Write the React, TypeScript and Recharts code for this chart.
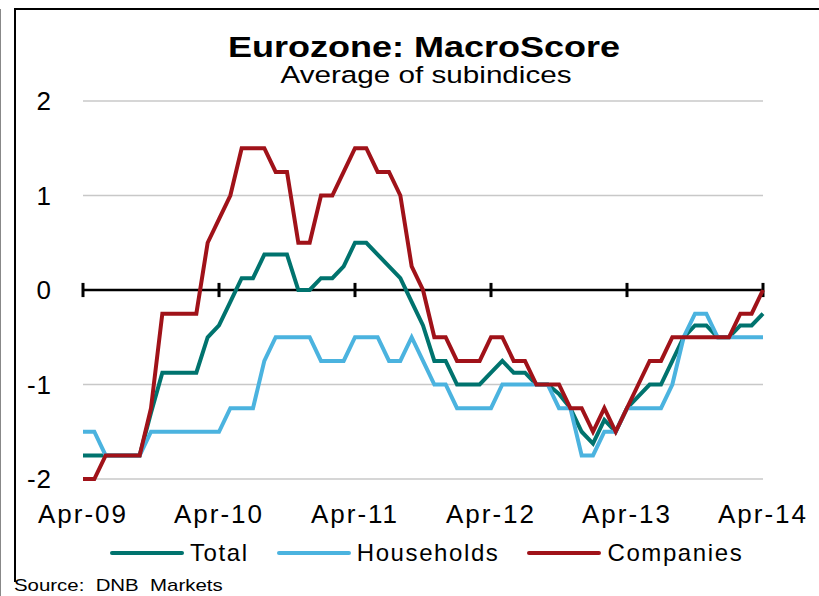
import { LineChart, Line, XAxis, YAxis, CartesianGrid, ReferenceLine } from 'recharts'

const FONT = '"Liberation Sans", Arial, sans-serif'

const MONTH_NAMES = ['Jan', 'Feb', 'Mar', 'Apr', 'May', 'Jun', 'Jul', 'Aug', 'Sep', 'Oct', 'Nov', 'Dec']

// Apr-09 .. Apr-14, monthly
const MONTHS: string[] = []
for (let i = 0; i < 61; i++) {
  const m = (3 + i) % 12
  const yr = 9 + Math.floor((3 + i) / 12)
  MONTHS.push(`${MONTH_NAMES[m]}-${String(yr).padStart(2, '0')}`)
}

const YEAR_TICKS = ['Apr-09', 'Apr-10', 'Apr-11', 'Apr-12', 'Apr-13', 'Apr-14']
const Y_TICKS = [-2, -1, 0, 1, 2]

const TOTAL = [
  -1.75, -1.75, -1.75, -1.75, -1.75, -1.75, -1.3, -0.875, -0.875, -0.875,
  -0.875, -0.5, -0.375, -0.125, 0.125, 0.125, 0.375, 0.375, 0.375, 0,
  0, 0.125, 0.125, 0.25, 0.5, 0.5, 0.375, 0.25, 0.125, -0.125,
  -0.375, -0.75, -0.75, -1, -1, -1, -0.875, -0.75, -0.875, -0.875,
  -1, -1, -1.1, -1.25, -1.5, -1.625, -1.375, -1.5, -1.25, -1.125,
  -1, -1, -0.75, -0.5, -0.375, -0.375, -0.5, -0.5, -0.375, -0.375,
  -0.25,
]

const HOUSEHOLDS = [
  -1.5, -1.5, -1.75, -1.75, -1.75, -1.75, -1.5, -1.5, -1.5, -1.5,
  -1.5, -1.5, -1.5, -1.25, -1.25, -1.25, -0.75, -0.5, -0.5, -0.5,
  -0.5, -0.75, -0.75, -0.75, -0.5, -0.5, -0.5, -0.75, -0.75, -0.5,
  -0.75, -1, -1, -1.25, -1.25, -1.25, -1.25, -1, -1, -1,
  -1, -1, -1.25, -1.25, -1.75, -1.75, -1.5, -1.5, -1.25, -1.25,
  -1.25, -1.25, -1, -0.5, -0.25, -0.25, -0.5, -0.5, -0.5, -0.5,
  -0.5,
]

const COMPANIES = [
  -2, -2, -1.75, -1.75, -1.75, -1.75, -1.25, -0.25, -0.25, -0.25,
  -0.25, 0.5, 0.75, 1, 1.5, 1.5, 1.5, 1.25, 1.25, 0.5,
  0.5, 1, 1, 1.25, 1.5, 1.5, 1.25, 1.25, 1, 0.25,
  0, -0.5, -0.5, -0.75, -0.75, -0.75, -0.5, -0.5, -0.75, -0.75,
  -1, -1, -1, -1.25, -1.25, -1.5, -1.25, -1.5, -1.25, -1,
  -0.75, -0.75, -0.5, -0.5, -0.5, -0.5, -0.5, -0.5, -0.25, -0.25,
  0,
]

const SERIES: [string, string, string][] = [
  ['total', 'Total', '#00736e'],
  ['households', 'Households', '#4bb3df'],
  ['companies', 'Companies', '#a01219'],
]

const data = MONTHS.map((month, i) => ({
  month,
  total: TOTAL[i],
  households: HOUSEHOLDS[i],
  companies: COMPANIES[i],
}))

const XTick = ({ x, y, payload }: any) => (
  <text x={x} y={y + 44} textAnchor="middle" fontSize={26} fontFamily={FONT} fill="#000" letterSpacing={2}>
    {payload.value}
  </text>
)

const YTick = ({ x, y, payload }: any) => (
  <text x={x - 31} y={y + 9} textAnchor="end" fontSize={26} fontFamily={FONT} fill="#000" letterSpacing={1}>
    {payload.value}
  </text>
)

function ChartLegend() {
  return (
    <div style={{ position: 'absolute', left: 110, top: 541, display: 'flex', alignItems: 'center', height: 24, fontFamily: FONT, fontSize: 24, lineHeight: '24px' }}>
      {SERIES.map(([key, label, color], i) => (
        <div key={key} style={{ display: 'flex', alignItems: 'center', marginLeft: i ? 28 : 0 }}>
          <div style={{ width: 74, height: 4, borderRadius: 2, background: color }} />
          <span style={{ marginLeft: 6, letterSpacing: 1.6, whiteSpace: 'nowrap' }}>{label}</span>
        </div>
      ))}
    </div>
  )
}

export default function App() {
  return (
    <div style={{ position: 'absolute', left: 0, top: 0, width: 819, height: 596, overflow: 'hidden', background: '#fff', fontFamily: FONT }}>
      {/* frame */}
      <div style={{ position: 'absolute', left: 0, top: 9, width: 1, height: 587, background: '#888' }} />
      <div style={{ position: 'absolute', left: 14, top: 7.5, width: 810, height: 572, borderLeft: '2.5px solid #000', borderTop: '2.5px solid #000' }} />

      <div style={{ position: 'absolute', left: 424, top: 31.5, whiteSpace: 'nowrap', fontSize: 30, lineHeight: '30px', fontWeight: 'bold', transform: 'translateX(-50%) scaleX(1.2)' }}>
        Eurozone: MacroScore
      </div>
      <div style={{ position: 'absolute', left: 426, top: 63, whiteSpace: 'nowrap', fontSize: 24.5, lineHeight: '24.5px', transform: 'translateX(-50%) scaleX(1.21)' }}>
        Average of subindices
      </div>

      <div style={{ position: 'absolute', left: 0, top: 0 }}>
        <LineChart width={819} height={596} data={data} margin={{ top: 101, right: 56, bottom: 87, left: 23 }}>
          <CartesianGrid vertical={false} stroke="#c8c8c8" strokeWidth={1.5} />
          <XAxis
            dataKey="month"
            scale="point"
            padding={{ left: 0, right: 0 }}
            interval={11}
            height={30}
            axisLine={false}
            tickLine={false}
            tickSize={0}
            tickMargin={0}
            tick={<XTick />}
          />
          <YAxis
            domain={[-2, 2]}
            ticks={Y_TICKS}
            width={60}
            axisLine={false}
            tickLine={false}
            tickSize={0}
            tickMargin={0}
            tick={<YTick />}
          />
          <ReferenceLine y={0} stroke="#000" strokeWidth={2.5} />
          {YEAR_TICKS.map(t => (
            <ReferenceLine key={t} segment={[{ x: t, y: -0.075 }, { x: t, y: 0.075 }]} stroke="#000" strokeWidth={3} />
          ))}
          {SERIES.map(([key, label, color]) => (
            <Line key={key} type="linear" dataKey={key} name={label} stroke={color} strokeWidth={4} dot={false} isAnimationActive={false} />
          ))}
        </LineChart>
      </div>

      <ChartLegend />

      <div style={{ position: 'absolute', left: 14, top: 577, whiteSpace: 'pre', fontSize: 17, lineHeight: '17px', transform: 'scaleX(1.2)', transformOrigin: 'left top' }}>
        {'Source:  DNB  Markets'}
      </div>
    </div>
  )
}
